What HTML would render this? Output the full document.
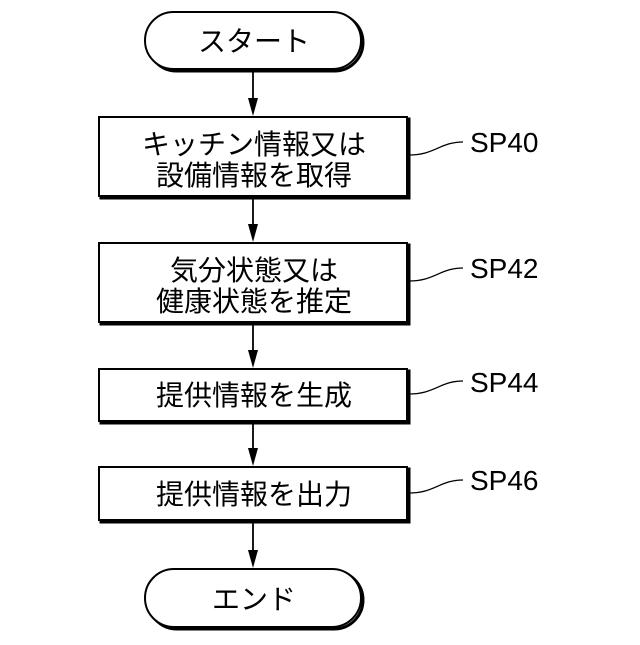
<!DOCTYPE html>
<html><head><meta charset="utf-8"><style>
body{margin:0;background:#fff;}
svg text{font-family:"Liberation Sans","Noto Sans CJK JP",sans-serif;fill:#000;}
</style></head><body>
<svg width="640" height="640" viewBox="0 0 640 640" xmlns="http://www.w3.org/2000/svg">
<g fill="none" stroke="#000">
<g stroke-width="3">
<rect x="148" y="14" width="215" height="57" rx="28.5"/>
<rect x="101" y="119" width="308" height="79"/>
<rect x="101" y="245" width="308" height="79"/>
<rect x="101" y="371" width="308" height="52"/>
<rect x="101" y="469" width="308" height="53"/>
<rect x="148" y="571" width="215" height="58" rx="29"/>
</g>
<g stroke-width="2" fill="#fff">
<rect x="145" y="12" width="216" height="57" rx="28.5"/>
<rect x="99" y="117" width="308" height="79"/>
<rect x="99" y="243" width="308" height="79"/>
<rect x="99" y="369" width="308" height="52"/>
<rect x="99" y="467" width="308" height="53"/>
<rect x="145" y="569" width="216" height="58" rx="29"/>
</g>
<g stroke-width="1.8">
<line x1="253" y1="72" x2="253" y2="104"/>
<line x1="253" y1="199" x2="253" y2="230"/>
<line x1="253" y1="325" x2="253" y2="356"/>
<line x1="253" y1="424" x2="253" y2="454"/>
<line x1="253" y1="523" x2="253" y2="556"/>
</g>
<g stroke-width="1.3">
<path d="M409,155 C435,155 440,142 463,142"/>
<path d="M409,281 C435,281 440,268 463,268"/>
<path d="M409,394 C435,394 440,381 463,381"/>
<path d="M409,493 C435,493 440,480 463,480"/>
</g>
</g>
<g fill="#000">
<path d="M248,98 L258,98 L253,116 Z"/>
<path d="M248,224 L258,224 L253,242 Z"/>
<path d="M248,350 L258,350 L253,368 Z"/>
<path d="M248,448 L258,448 L253,466 Z"/>
<path d="M248,550 L258,550 L253,568 Z"/>
</g>
<g font-size="28" text-anchor="middle">
<text x="254" y="51">スタート</text>
<text x="254" y="154">キッチン情報又は</text>
<text x="254" y="185">設備情報を取得</text>
<text x="254" y="280">気分状態又は</text>
<text x="254" y="311">健康状態を推定</text>
<text x="254" y="405">提供情報を生成</text>
<text x="254" y="504">提供情報を出力</text>
<text x="254" y="609">エンド</text>
</g>
<g font-size="28">
<text x="470" y="152">SP40</text>
<text x="470" y="278">SP42</text>
<text x="470" y="392">SP44</text>
<text x="470" y="490">SP46</text>
</g>
</svg>
</body></html>
